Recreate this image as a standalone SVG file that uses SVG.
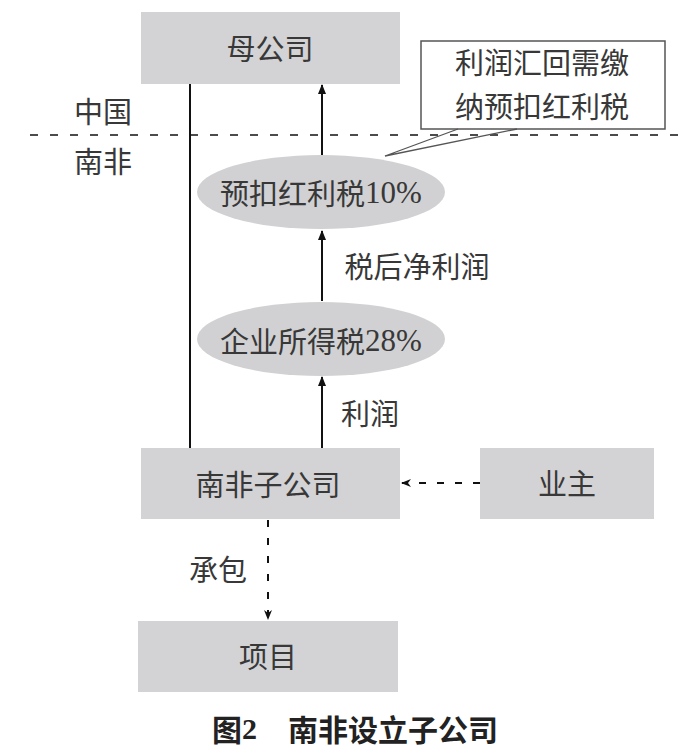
<svg xmlns="http://www.w3.org/2000/svg" width="684" height="750" viewBox="0 0 684 750">
<style>
.box{fill:#d3d3d5;stroke:none}
.ell{fill:#d1d1d3;stroke:none}
.t{font-family:"Noto Sans CJK SC","Noto Sans",sans-serif;font-size:29px;fill:#383838;text-anchor:middle;dominant-baseline:central}
.num{font-family:"Liberation Serif","Noto Sans CJK SC",serif;font-size:31px}
.ln{stroke:#111;stroke-width:2;fill:none}
.dash{stroke:#111;stroke-width:2;fill:none;stroke-dasharray:7 11}
.title{font-family:"Noto Sans CJK SC",sans-serif;font-size:30px;font-weight:bold;fill:#222;dominant-baseline:central}
</style>
<defs>
<marker id="ah" markerWidth="10" markerHeight="10" refX="9" refY="5" orient="auto" markerUnits="userSpaceOnUse">
<path d="M0,1 L10,5 L0,9 Z" fill="#111"/>
</marker>
<marker id="ahd" markerWidth="10" markerHeight="10" refX="9" refY="5" orient="auto" markerUnits="userSpaceOnUse">
<path d="M0,1 L10,5 L0,9 L3,5 Z" fill="#111"/>
</marker>
</defs>
<rect width="684" height="750" fill="#fff"/>
<g id="connectors">
<line class="ln" x1="190" y1="84" x2="190" y2="448"/>
<line class="ln" x1="322" y1="156" x2="322" y2="85" marker-end="url(#ah)"/>
<line class="ln" x1="322" y1="301" x2="322" y2="231" marker-end="url(#ah)"/>
<line class="ln" x1="322" y1="448" x2="322" y2="377" marker-end="url(#ah)"/>
<line class="dash" x1="480" y1="483" x2="402" y2="483" marker-end="url(#ahd)"/>
<line class="dash" x1="268" y1="520" x2="268" y2="619" marker-end="url(#ahd)"/>
</g>
<line x1="30" y1="135" x2="684" y2="135" stroke="#111" stroke-width="1.6" stroke-dasharray="8 12"/>
<g id="china"><text class="t" x="103" y="110">中国</text></g>
<g id="southafrica"><text class="t" x="103" y="160">南非</text></g>
<g id="parent">
<rect class="box" x="141" y="12" width="259" height="72"/>
<text class="t" x="270" y="47">母公司</text>
</g>
<g id="callout">
<path d="M421,41 H665 V129 H421 Z" fill="#fff" stroke="#555" stroke-width="1.5"/>
<path d="M458,129 L385,156 L517,129" fill="none" stroke="#555" stroke-width="1.3"/>
<text class="t" x="542" y="61">利润汇回需缴</text>
<text class="t" x="542" y="105">纳预扣红利税</text>
</g>
<g id="withholding">
<ellipse class="ell" cx="321" cy="192" rx="124" ry="37"/>
<text class="t" x="321" y="192">预扣红利税<tspan class="num">10%</tspan></text>
</g>
<g id="label-aftertax"><text class="t" x="417" y="265">税后净利润</text></g>
<g id="corptax">
<ellipse class="ell" cx="321" cy="339" rx="124" ry="37"/>
<text class="t" x="321" y="340">企业所得税<tspan class="num">28%</tspan></text>
</g>
<g id="label-profit"><text class="t" x="370" y="412">利润</text></g>
<g id="subsidiary">
<rect class="box" x="141" y="448" width="259" height="71"/>
<text class="t" x="268" y="483">南非子公司</text>
</g>
<g id="owner">
<rect class="box" x="480" y="448" width="174" height="71"/>
<text class="t" x="567" y="482">业主</text>
</g>
<g id="label-contract"><text class="t" x="218" y="568">承包</text></g>
<g id="project">
<rect class="box" x="138" y="621" width="260" height="71"/>
<text class="t" x="268" y="655">项目</text>
</g>
<g id="caption">
<text class="title" x="212" y="728">图<tspan font-family="Liberation Serif">2</tspan></text>
<text class="title" x="288" y="728">南非设立子公司</text>
</g>
</svg>
